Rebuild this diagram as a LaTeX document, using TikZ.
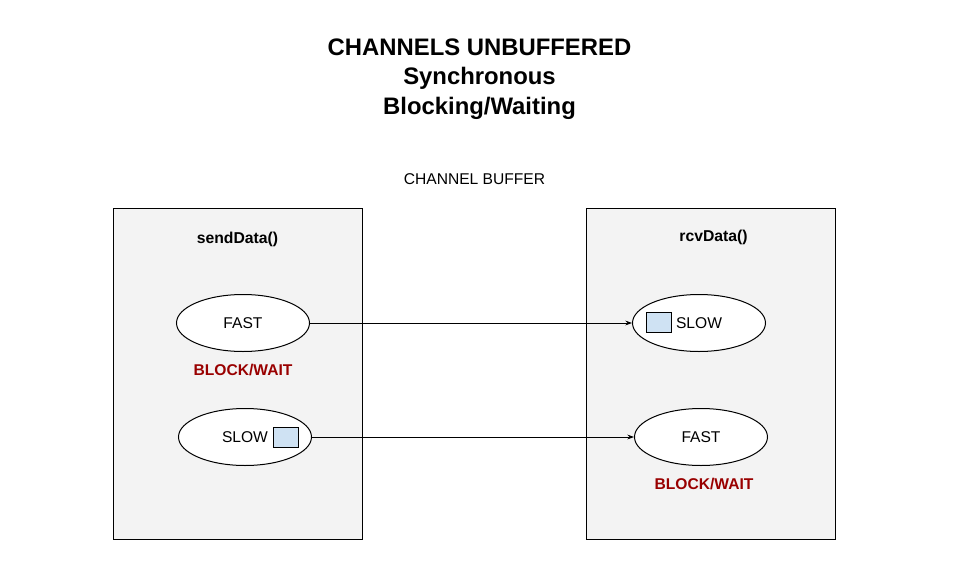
\documentclass[tikz,border=0pt]{standalone}
\usepackage{fontspec}
\setmainfont{Liberation Sans}
\usetikzlibrary{arrows.meta, positioning, shapes.geometric}
\definecolor{boxgray}{HTML}{F3F3F3}
\definecolor{bufblue}{HTML}{CFE2F3}
\definecolor{blockred}{HTML}{990000}

\begin{document}
\begin{tikzpicture}[x=0.75pt, y=-0.75pt,
        routine/.style={rectangle, draw, fill=boxgray, line width=0.75pt, inner sep=0pt,
            minimum width=186.75pt, minimum height=248.25pt},
        speed/.style={ellipse, draw, fill=white, line width=0.75pt, inner sep=0pt,
            minimum width=99.75pt, minimum height=42.75pt, font=\fontsize{11.7}{14}\selectfont},
        bufbox/.style={rectangle, draw, fill=bufblue, line width=0.75pt, inner sep=0pt,
            minimum width=18.75pt, minimum height=15pt},
        warn/.style={text=blockred, font=\bfseries\fontsize{11.7}{14}\selectfont},
        fname/.style={font=\bfseries\fontsize{11.8}{14}\selectfont},
        >={Stealth[length=5pt, width=3.6pt]}
    ]
        \useasboundingbox (0,0) rectangle (958,582);

        \node[align=center, font=\bfseries\fontsize{17.9}{22.1}\selectfont] (title) at (479.5,79)
            {CHANNELS UNBUFFERED\\Synchronous\\Blocking/Waiting};
        \node[font=\fontsize{11.7}{14}\selectfont] (buffer) at (474.5,179) {CHANNEL BUFFER};

        % goroutines
        \node[routine] (send) at (237.5,373.5) {};
        \node[routine] (rcv) at (711,373.5) {};
        \node[fname] (sendname) at (237.5,239.5) {sendData()};
        \node[fname] (rcvname) at (713.5,237.5) {rcvData()};

        % sender side
        \node[speed] (sfast) at (243,323) {FAST};
        \node[warn] (sblock) at (243,370) {BLOCK/WAIT};
        \node[speed] (sslow) at (245,437) {SLOW};
        \node[bufbox] (sbuf) at (286,437) {};

        % receiver side
        \node[speed] (rslow) at (699,323) {SLOW};
        \node[bufbox] (rbuf) at (658.5,322) {};
        \node[speed] (rfast) at (701,437) {FAST};
        \node[warn] (rblock) at (704,484) {BLOCK/WAIT};

        \draw[->, line width=0.6pt] (sfast) -- (rslow);
        \draw[->, line width=0.6pt] (sslow) -- (rfast);
    \end{tikzpicture}
\end{document}
